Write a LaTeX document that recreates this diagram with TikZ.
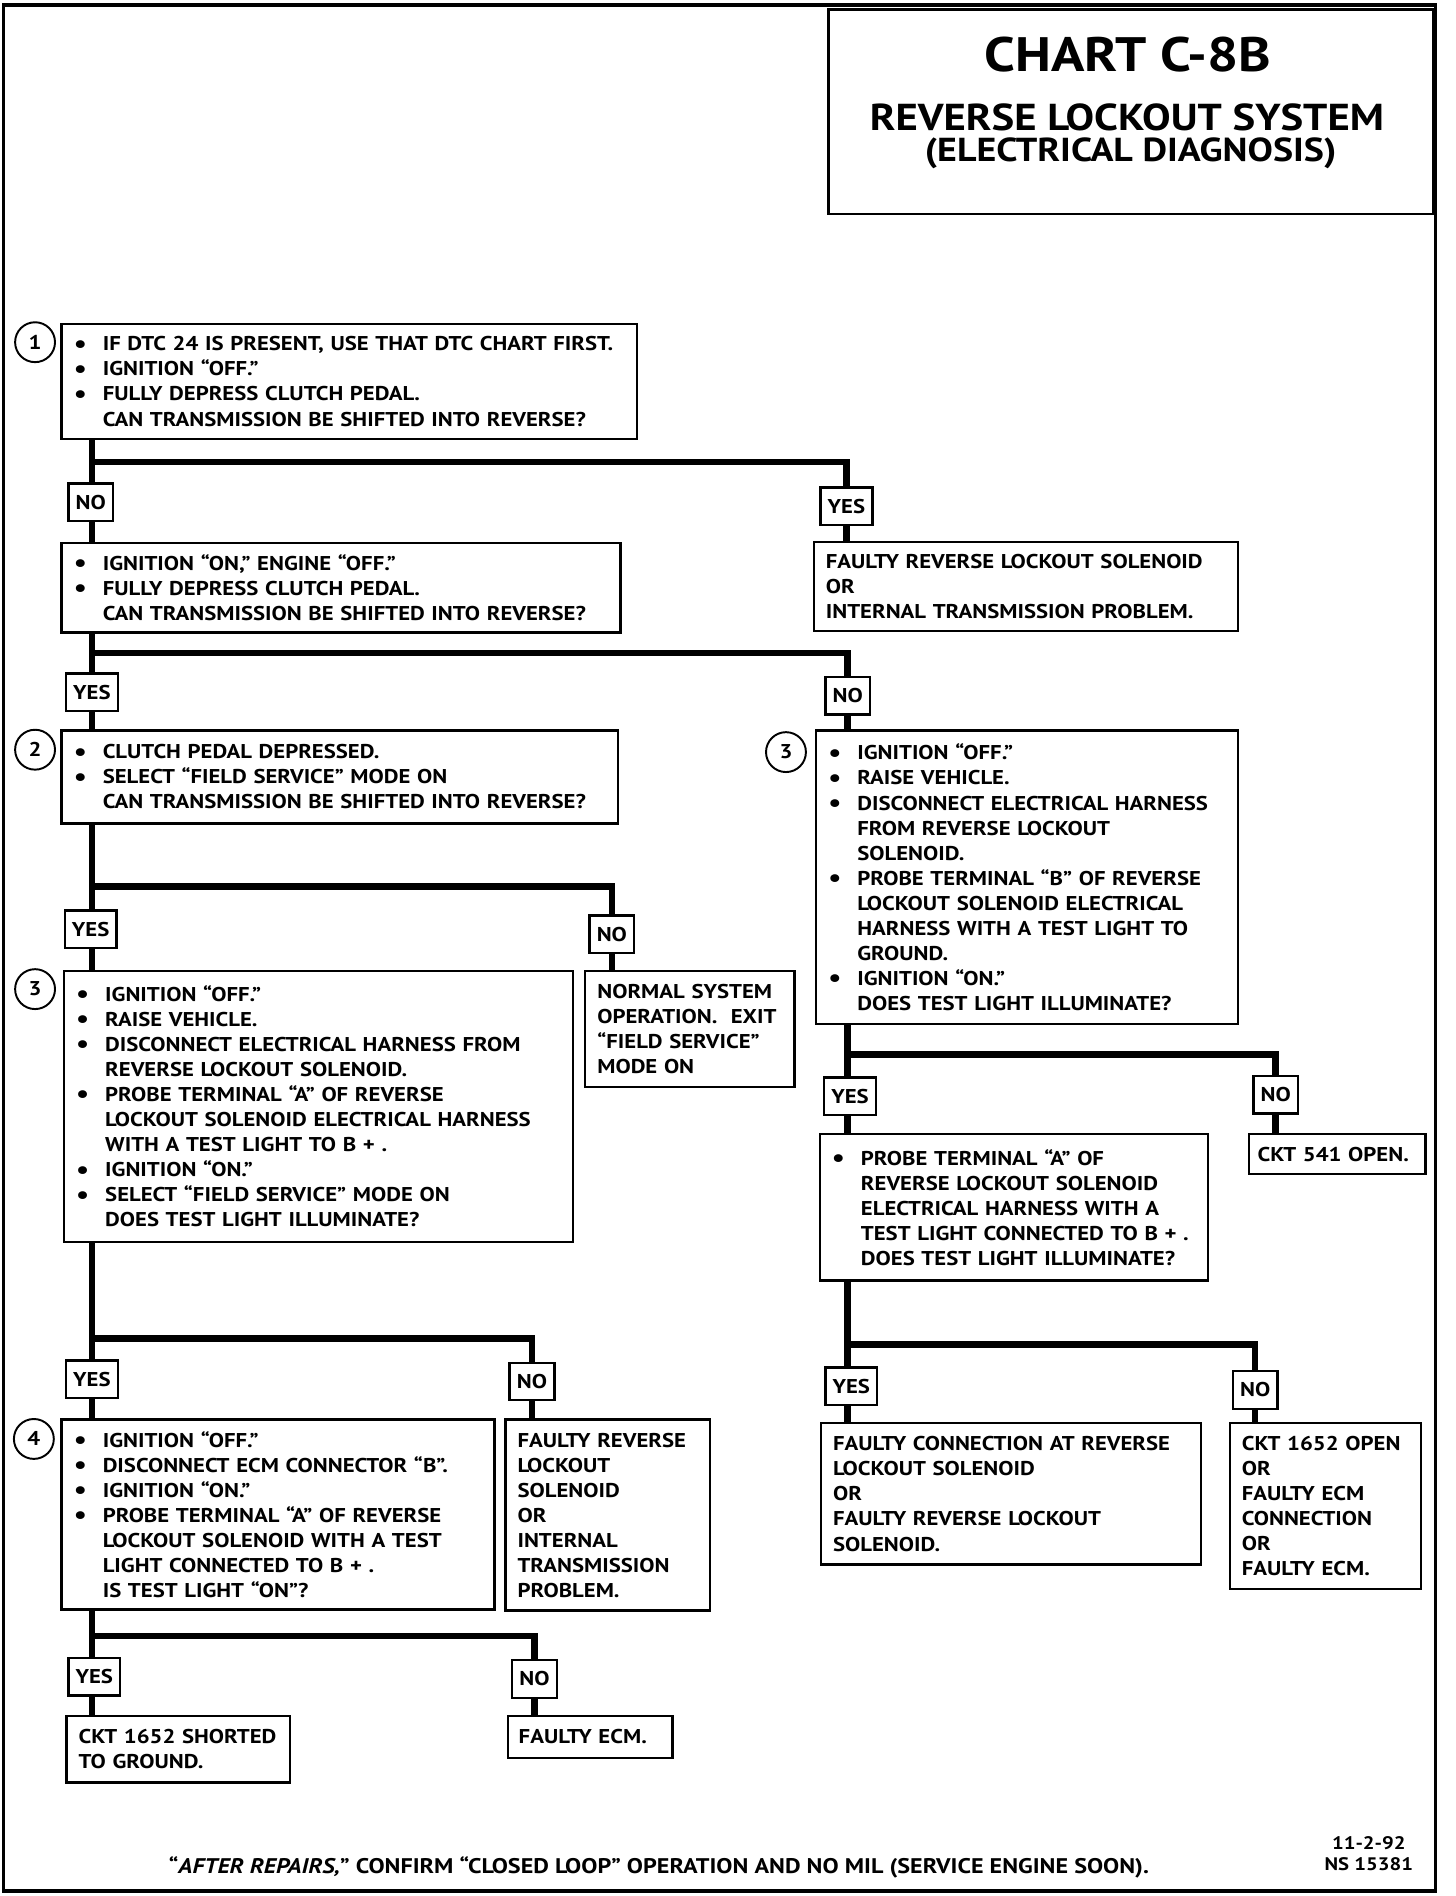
\documentclass[tikz,border=0pt]{standalone}
\usepackage{fontspec}
\setmainfont{PT Sans}[FakeStretch=1.14]
\usetikzlibrary{positioning}

\newcommand{\bul}{\makebox[24pt][l]{\raisebox{-1pt}{\fontsize{21}{0}\selectfont\textbullet}}}
\newcommand{\ind}{\hspace*{24pt}}
\newcommand{\chartfont}{\fontsize{16.5}{20.7}\selectfont\bfseries}

\begin{document}
\begin{tikzpicture}[x=1pt,y=-1pt,
  every node/.style={font=\chartfont},
  box/.style={draw, line width=2pt, anchor=north west, align=left, inner xsep=10pt, inner ysep=0pt},
  ans/.style={draw, line width=2pt, anchor=north, minimum height=31pt, inner xsep=6pt, inner ysep=0pt},
  stepno/.style={circle, draw, line width=1.6pt, minimum size=33pt, inner sep=0pt},
  trunk/.style={line width=5.5pt}]
\useasboundingbox (0,0) rectangle (1204,1568);
\draw[line width=3pt] (3,4) rectangle (1187,1564);

% title block
\draw[line width=2pt] (685,8) rectangle (1185,177);
\node[font=\fontsize{40}{46}\selectfont\bfseries] (title) at (933,45) {CHART C-8B};
\node[font=\fontsize{31}{36}\selectfont\bfseries] (sub) at (932,97) {REVERSE LOCKOUT SYSTEM};
\node[font=\fontsize{27.5}{30}\selectfont\bfseries] (sub2) at (935,127) {(ELECTRICAL DIAGNOSIS)};

% step numbers
\node[stepno] (c1) at (29,283) {1};
\node[stepno] (c2) at (29,620) {2};
\node[stepno] (c3) at (29,818) {3};
\node[stepno] (c3r) at (650,622) {3};
\node[stepno] (c4) at (28,1190) {4};

% left column
\node[box, text width=456pt, minimum height=95pt] (q1) at (50,267)
  {\bul IF DTC 24 IS PRESENT, USE THAT DTC CHART FIRST.\\
   \bul IGNITION “OFF.”\\
   \bul FULLY DEPRESS CLUTCH PEDAL.\\
   \ind CAN TRANSMISSION BE SHIFTED INTO REVERSE?};
\node[ans] (no1) at (75,399) {NO};
\node[ans] (yes1) at (700,402) {YES};
\node[box, text width=331pt, minimum height=74pt] (r1) at (672,447)
  {FAULTY REVERSE LOCKOUT SOLENOID\\ OR\\ INTERNAL TRANSMISSION PROBLEM.};
\node[box, text width=442pt, minimum height=74pt] (q2) at (50,448)
  {\bul IGNITION “ON,” ENGINE “OFF.”\\
   \bul FULLY DEPRESS CLUTCH PEDAL.\\
   \ind CAN TRANSMISSION BE SHIFTED INTO REVERSE?};
\node[ans] (yes2) at (76,556) {YES};
\node[ans] (no2) at (701,559) {NO};
\node[box, text width=440pt, minimum height=77pt] (q3) at (50,603)
  {\bul CLUTCH PEDAL DEPRESSED.\\
   \bul SELECT “FIELD SERVICE” MODE ON\\
   \ind CAN TRANSMISSION BE SHIFTED INTO REVERSE?};
\node[ans] (yes3) at (75,752) {YES};
\node[ans] (no3) at (506,756) {NO};
\node[box, text width=401pt, minimum height=224pt] (q4) at (52,802)
  {\bul IGNITION “OFF.”\\
   \bul RAISE VEHICLE.\\
   \bul DISCONNECT ELECTRICAL HARNESS FROM\\
   \ind REVERSE LOCKOUT SOLENOID.\\
   \bul PROBE TERMINAL “A” OF REVERSE\\
   \ind LOCKOUT SOLENOID ELECTRICAL HARNESS\\
   \ind WITH A TEST LIGHT TO B + .\\
   \bul IGNITION “ON.”\\
   \bul SELECT “FIELD SERVICE” MODE ON\\
   \ind DOES TEST LIGHT ILLUMINATE?};
\node[box, text width=153pt, minimum height=96pt] (r2) at (483,802)
  {NORMAL SYSTEM\\ OPERATION.~ EXIT\\ “FIELD SERVICE”\\ MODE ON};
\node[ans] (yes4) at (76,1124) {YES};
\node[ans] (no4) at (440,1126) {NO};
\node[box, text width=338pt, minimum height=157pt] (q5) at (50,1173)
  {\bul IGNITION “OFF.”\\
   \bul DISCONNECT ECM CONNECTOR “B”.\\
   \bul IGNITION “ON.”\\
   \bul PROBE TERMINAL “A” OF REVERSE\\
   \ind LOCKOUT SOLENOID WITH A TEST\\
   \ind LIGHT CONNECTED TO B + .\\
   \ind IS TEST LIGHT “ON”?};
\node[box, text width=149pt, minimum height=158pt] (r3) at (417,1173)
  {FAULTY REVERSE\\ LOCKOUT\\ SOLENOID\\ OR\\ INTERNAL\\ TRANSMISSION\\ PROBLEM.};
\node[ans] (yes5) at (78,1370) {YES};
\node[ans] (no5) at (442,1372) {NO};
\node[box, text width=165pt, minimum height=55pt] (r4) at (54,1418)
  {CKT 1652 SHORTED\\ TO GROUND.};
\node[box, text width=118pt, inner xsep=9pt, minimum height=35pt] (r5) at (419,1418) {FAULTY ECM.};

% right column
\node[box, text width=329pt, minimum height=243pt] (q3b) at (674,603)
  {\bul IGNITION “OFF.”\\
   \bul RAISE VEHICLE.\\
   \bul DISCONNECT ELECTRICAL HARNESS\\
   \ind FROM REVERSE LOCKOUT\\
   \ind SOLENOID.\\
   \bul PROBE TERMINAL “B” OF REVERSE\\
   \ind LOCKOUT SOLENOID ELECTRICAL\\
   \ind HARNESS WITH A TEST LIGHT TO\\
   \ind GROUND.\\
   \bul IGNITION “ON.”\\
   \ind DOES TEST LIGHT ILLUMINATE?};
\node[ans] (yes6) at (703,890) {YES};
\node[ans] (no6) at (1055,889) {NO};
\node[box, text width=301pt, minimum height=121pt] (q4b) at (677,937)
  {\bul PROBE TERMINAL “A” OF\\
   \ind REVERSE LOCKOUT SOLENOID\\
   \ind ELECTRICAL HARNESS WITH A\\
   \ind TEST LIGHT CONNECTED TO B + .\\
   \ind DOES TEST LIGHT ILLUMINATE?};
\node[box, text width=132pt, inner xsep=7pt, minimum height=33pt] (r6) at (1032,937) {CKT 541 OPEN.};
\node[ans] (yes7) at (704,1130) {YES};
\node[ans] (no7) at (1038,1133) {NO};
\node[box, text width=294pt, minimum height=117pt] (r7) at (678,1176)
  {FAULTY CONNECTION AT REVERSE\\ LOCKOUT SOLENOID\\ OR\\ FAULTY REVERSE LOCKOUT\\ SOLENOID.};
\node[box, text width=138pt, minimum height=137pt] (r8) at (1016,1176)
  {CKT 1652 OPEN\\ OR\\ FAULTY ECM\\ CONNECTION\\ OR\\ FAULTY ECM.};

% branch points
\coordinate (b1) at (76,382);
\coordinate (b2) at (76,540);
\coordinate (b3) at (76,733);
\coordinate (b4) at (76,1107);
\coordinate (b5) at (76,1353);
\coordinate (b6) at (701,872);
\coordinate (b7) at (701,1112);

% connectors
\draw[trunk] (q1.south -| b1) -- (no1.north -| b1);
\draw[trunk] (b1) -| (yes1.north);
\draw[trunk] (yes1.south) -- (r1.north -| yes1);
\draw[trunk] (no1.south -| b1) -- (q2.north -| b1);
\draw[trunk] (q2.south -| b2) -- (yes2.north -| b2);
\draw[trunk] (b2) -| (no2.north);
\draw[trunk] (no2.south) -- (q3b.north -| no2);
\draw[trunk] (yes2.south -| b2) -- (q3.north -| b2);
\draw[trunk] (q3.south -| b3) -- (yes3.north -| b3);
\draw[trunk] (b3) -| (no3.north);
\draw[trunk] (no3.south) -- (r2.north -| no3);
\draw[trunk] (yes3.south -| b3) -- (q4.north -| b3);
\draw[trunk] (q4.south -| b4) -- (yes4.north -| b4);
\draw[trunk] (b4) -| (no4.north);
\draw[trunk] (no4.south) -- (r3.north -| no4);
\draw[trunk] (yes4.south -| b4) -- (q5.north -| b4);
\draw[trunk] (q5.south -| b5) -- (yes5.north -| b5);
\draw[trunk] (b5) -| (no5.north);
\draw[trunk] (no5.south) -- (r5.north -| no5);
\draw[trunk] (yes5.south -| b5) -- (r4.north -| b5);
\draw[trunk] (q3b.south -| b6) -- (yes6.north -| b6);
\draw[trunk] (b6) -| (no6.north);
\draw[trunk] (no6.south) -- (r6.north -| no6);
\draw[trunk] (yes6.south -| b6) -- (q4b.north -| b6);
\draw[trunk] (q4b.south -| b7) -- (yes7.north -| b7);
\draw[trunk] (b7) -| (no7.north);
\draw[trunk] (no7.south) -- (r8.north -| no7);
\draw[trunk] (yes7.south -| b7) -- (r7.north -| b7);

% footer
\node[font=\fontsize{17.5}{21}\selectfont\bfseries] (note) at (545,1544) {“\textit{AFTER REPAIRS,}” CONFIRM “CLOSED LOOP” OPERATION AND NO MIL (SERVICE ENGINE SOON).};
\node[align=center, font=\fontsize{15}{18}\selectfont\bfseries] (code) at (1132,1533) {11-2-92\\ NS 15381};
\end{tikzpicture}
\end{document}
